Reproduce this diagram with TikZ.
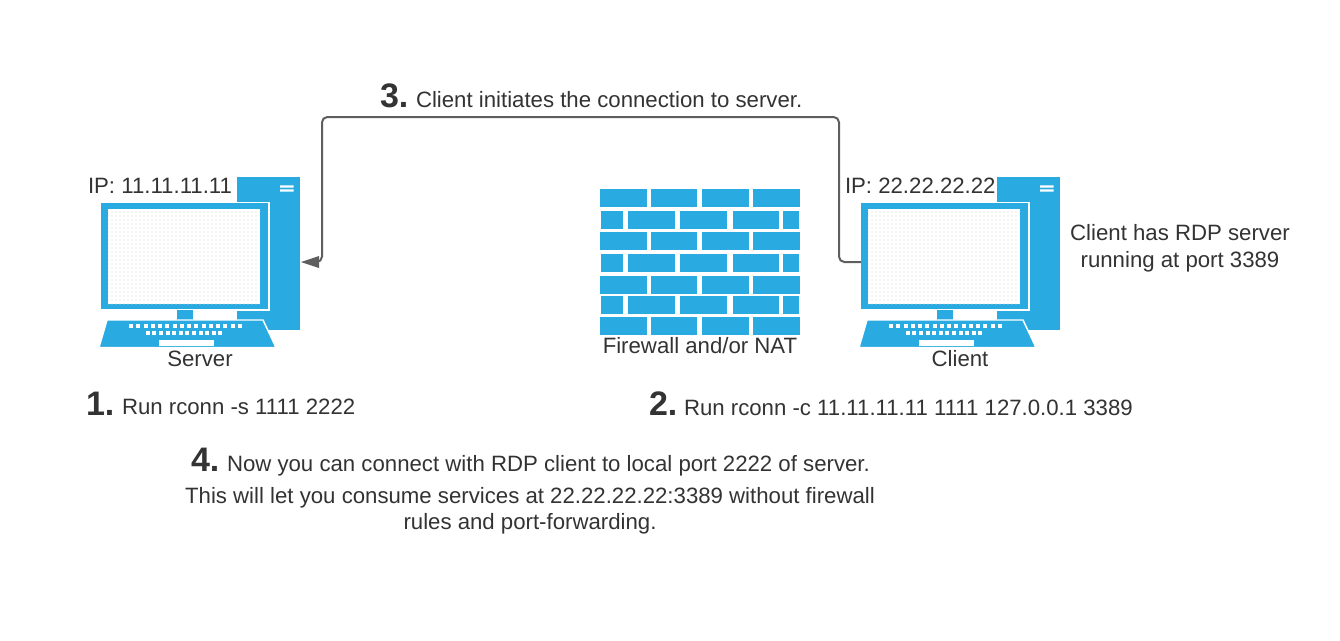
\documentclass[tikz,border=0pt]{standalone}
\usepackage{fontspec}
\setmainfont{Liberation Sans}
\usetikzlibrary{patterns,arrows.meta}
\definecolor{lblue}{HTML}{29ABE2}
\definecolor{ink}{HTML}{333333}
\definecolor{wire}{HTML}{5E5E5E}
\newcommand{\txt}{\fontsize{16.65}{20}\selectfont}
\newcommand{\num}{\fontsize{25.5}{30}\selectfont\bfseries}
\tikzset{
  label text/.style={text=ink,inner sep=0pt,outer sep=0pt,font=\txt},
  step number/.style={text=ink,inner sep=0pt,outer sep=0pt,font=\num,anchor=base west},
  wire line/.style={draw=wire,line width=1.5pt,rounded corners=4pt},
  blue part/.style={fill=lblue,draw=none},
}
% #1 = x offset, #2 = node name prefix
\newcommand{\computer}[2]{%
  \begin{scope}[shift={(#1,0)}]
    \node[blue part,inner sep=0pt,minimum width=47.25pt,minimum height=114.75pt] (#2tower) at (268.5,253.5) {};
    \fill[white] (280,185.3) rectangle (293.7,187.6) (280,189.3) rectangle (293.7,191.7);
    \fill[white] (99.5,201.5) rectangle (269.5,310.5);
    \node[blue part,inner sep=0pt,minimum width=125.25pt,minimum height=79.5pt] (#2monitor) at (184.5,256) {};
    \fill[white] (108,209) rectangle (260,304);
    \fill[pattern=dots,pattern color=gray!35] (108,209) rectangle (260,304);
    \fill[lblue] (177,310) rectangle (193,319.5);
    \draw[blue part,draw=white,line width=1.1pt] (107,320) -- (263,320) -- (276,347.5) -- (99,347.5) -- cycle;
    \foreach \k in {0,...,15} {\fill[white] ({129+\k*7.25},324.3) rectangle ({133.2+\k*7.25},328.3);}
    \foreach \k in {0,...,11} {\fill[white] ({145.7+\k*6.6},330.7) rectangle ({149.7+\k*6.6},334.5);}
    \fill[white] (159,340.3) rectangle (214.3,345.7);
  \end{scope}}
\begin{document}
\begin{tikzpicture}[x=0.75pt,y=-0.75pt]
\useasboundingbox (0,0) rectangle (1340,640);
\fill[white] (0,0) rectangle (1340,640);

\computer{0}{srv}
\computer{760}{cli}

% firewall
\foreach \yy in {189.3,232.3,275.7,316.7} {
  \foreach \a/\b in {600/647,651/697.3,702/749,753/800} {\fill[lblue] (\a,\yy) rectangle (\b,\yy+18);}
}
\foreach \yy in {210.6,254,295.7} {
  \foreach \a/\b in {600.7/623,628/675,680/727,732.7/779.3,783.3/799.3} {\fill[lblue] (\a,\yy) rectangle (\b,\yy+18);}
}

% connector
\coordinate (serverport) at (301,262);
\coordinate (clientport) at (861,262);
\coordinate (r1) at (839,262);
\coordinate (r2) at (839,117);
\coordinate (r3) at (322,117);
\coordinate (r4) at (322,262);
\coordinate (r5) at (318,262);
\coordinate (a1) at (319,256);
\coordinate (a2) at (319,268);
\draw[wire line] (clientport) -- (r1) -- (r2) -- (r3) -- (r4) -- (r5);
\fill[wire] (serverport) -- (a1) -- (a2) -- cycle;

% labels
\node[step number] (n3) at (380,107) {3.};
\node[label text,anchor=base west] (t3) at (416,107) {Client initiates the connection to server.};
\node[label text,anchor=base west] (ip1) at (88,193) {IP: 11.11.11.11};
\node[label text,anchor=base west] (ip2) at (845,193) {IP: 22.22.22.22};
\node[label text,anchor=base] (srvlabel) at (200,366) {Server};
\node[label text,anchor=base] (clilabel) at (960,366) {Client};
\node[label text,anchor=base] (fwlabel) at (700,353) {Firewall and/or NAT};
\node[label text,anchor=base] (rdp1) at (1180,240) {Client has RDP server};
\node[label text,anchor=base] (rdp2) at (1180,267) {running at port 3389};
\node[step number] (n1) at (86,415) {1.};
\node[label text,anchor=base west] (t1) at (122,414) {Run rconn -s 1111 2222};
\node[step number] (n2) at (649,415) {2.};
\node[label text,anchor=base west] (t2) at (684,415) {Run rconn -c 11.11.11.11 1111 127.0.0.1 3389};
\node[step number] (n4) at (191,471) {4.};
\node[label text,anchor=base west] (t4) at (227,471) {Now you can connect with RDP client to local port 2222 of server.};
\node[label text,anchor=base] (t5) at (530,503) {This will let you consume services at 22.22.22.22:3389 without firewall};
\node[label text,anchor=base] (t6) at (530,529) {rules and port-forwarding.};
\end{tikzpicture}
\end{document}
